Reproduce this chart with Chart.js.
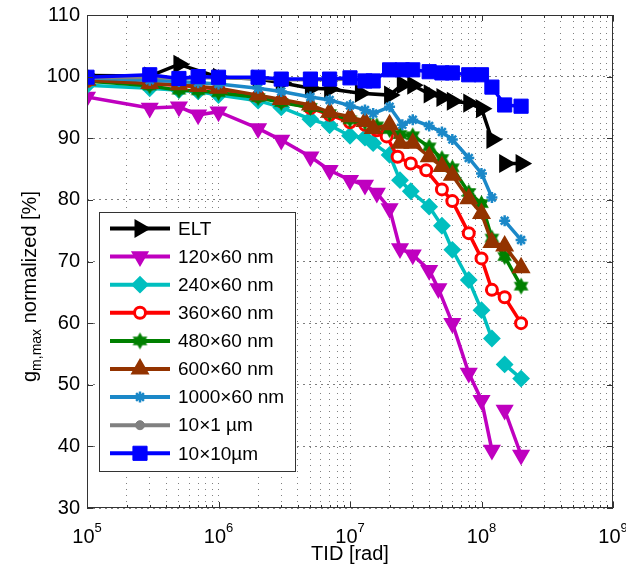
<!DOCTYPE html>
<html>
<head>
<meta charset="utf-8">
<script src="https://cdn.jsdelivr.net/npm/chart.js@4/dist/chart.umd.min.js"></script>
<style>
  html, body { margin: 0; padding: 0; background: #fff; }
</style>
</head>
<body>
<canvas id="tidChart" width="626" height="574"></canvas>
<script>
// --- data (TID in rad, gm,max normalized in %) ---
const seriesNames = ["ELT", "120×60 nm", "240×60 nm", "360×60 nm", "480×60 nm",
                     "600×60 nm", "1000×60 nm", "10×1 µm", "10×10µm"];

const tidElt = [1e5, 3e5, 5e5, 1e6, 2e6, 3e6, 5e6, 7e6, 1.2e7, 2e7, 2.5e7, 3e7, 4e7, 5e7, 6e7, 8e7, 1e8, 1.2e8, 1.35e8, 1.5e8, 2e8];
const gmElt  = [100.2, 100.1, 102.0, 99.9, 99.6, 99.0, 98.1, 98.0, 97.3, 97.0, 98.7, 98.6, 97.2, 96.6, 96.0, 95.7, 94.8, 89.8, null, 85.9, 85.9];

const tid120 = [1e5, 3e5, 5e5, 7e5, 1e6, 2e6, 3e6, 5e6, 7e6, 1e7, 1.3e7, 1.6e7, 2e7, 2.4e7, 3e7, 4e7, 4.7e7, 6e7, 8e7, 1e8, 1.2e8, 1.35e8, 1.5e8, 2e8];
const gm120  = [96.7, 94.9, 95.1, 93.8, 94.3, 91.6, 89.7, 87.0, 84.8, 83.2, 82.4, 81.1, 78.6, 72.1, 71.1, 68.6, 65.6, 60.0, 51.9, 47.5, 39.4, null, 45.9, 38.6];

const tid240 = [1e5, 3e5, 5e5, 7e5, 1e6, 2e6, 3e6, 5e6, 7e6, 1e7, 1.3e7, 1.5e7, 2e7, 2.4e7, 2.9e7, 4e7, 5e7, 6e7, 8e7, 1e8, 1.2e8, 1.35e8, 1.5e8, 2e8];
const gm240  = [98.6, 98.1, 97.8, 97.6, 97.0, 96.1, 95.0, 93.1, 92.1, 90.4, 90.1, 89.2, 87.3, 83.2, 81.4, 78.9, 75.8, 71.9, 67.0, 62.1, 57.5, null, 53.3, 51.0];

const tid360 = [1e5, 3e5, 5e5, 7e5, 1e6, 2e6, 3e6, 5e6, 7e6, 1e7, 1.3e7, 1.6e7, 1.9e7, 2.3e7, 2.9e7, 3.8e7, 5e7, 6e7, 8e7, 1e8, 1.2e8, 1.5e8, 2e8];
const gm360  = [99.3, 98.8, 98.6, 98.3, 98.0, 96.8, 96.0, 94.9, 93.8, 92.6, 92.2, 91.3, 90.3, 87.0, 85.9, 84.8, 81.7, 79.8, 74.6, 70.5, 65.4, 64.2, 60.0];

const tid480 = [1e5, 3e5, 5e5, 7e5, 1e6, 2e6, 3e6, 5e6, 7e6, 1e7, 1.3e7, 1.6e7, 2e7, 2.4e7, 3e7, 4e7, 5e7, 6e7, 8e7, 1e8, 1.2e8, 1.5e8, 2e8];
const gm480  = [99.3, 98.5, 97.8, 97.7, 97.4, 96.6, 95.8, 95.0, 94.0, 93.0, 92.6, 92.0, 91.4, 90.6, 90.4, 88.6, 86.7, 85.2, 81.2, 79.4, 73.8, 70.8, 66.0];

const tid600 = [1e5, 3e5, 5e5, 7e5, 1e6, 2e6, 3e6, 5e6, 7e6, 1e7, 1.3e7, 1.5e7, 2e7, 2.4e7, 3e7, 4e7, 5e7, 6e7, 8e7, 1e8, 1.2e8, 1.5e8, 2e8];
const gm600  = [99.4, 98.9, 98.7, 98.4, 98.1, 97.0, 96.3, 95.4, 94.2, 93.5, 92.7, 91.6, 92.2, 89.2, 89.2, 87.0, 85.4, 84.0, 80.2, 77.8, 73.1, 72.5, 69.0];

const tid1000 = [1e5, 3e5, 5e5, 7e5, 1e6, 2e6, 3e6, 5e6, 7e6, 1e7, 1.3e7, 1.5e7, 2e7, 2.5e7, 3e7, 4e7, 5e7, 6e7, 8e7, 1e8, 1.2e8, 1.35e8, 1.5e8, 2e8];
const gm1000  = [99.8, 99.4, 99.2, 99.0, 98.8, 98.1, 97.6, 96.7, 96.2, 95.3, 94.6, 94.0, 95.1, 92.2, 93.0, 92.0, 91.0, 89.8, 86.8, 84.3, 80.4, null, 76.6, 73.5];

const tid10x1 = [1e5, 3e5, 5e5, 7e5, 1e6, 2e6, 3e6, 5e6, 7e6, 1e7];
const gm10x1  = [99.8, 99.9, 99.7, 99.8, 99.8, 99.7, 99.5, 99.5, 99.5, 99.6];

const tid10x10 = [1e5, 3e5, 5e5, 7e5, 1e6, 2e6, 3e6, 5e6, 7e6, 1e7, 1.3e7, 1.5e7, 2e7, 2.5e7, 3e7, 4e7, 5e7, 6e7, 8e7, 1e8, 1.2e8, 1.5e8, 2e8];
const gm10x10  = [99.9, 100.3, 99.7, 100.0, 99.9, 99.9, 99.6, 99.6, 99.6, 99.8, 99.3, 99.3, 101.1, 101.1, 101.1, 100.8, 100.6, 100.6, 100.3, 100.3, 98.3, 95.4, 95.2];

const yTicks = [30, 40, 50, 60, 70, 80, 90, 100, 110];
const xTickExps = [5, 6, 7, 8, 9];
const xMinorMults = [2, 3, 4, 5, 6, 7, 8, 9];

const FONT = "'Liberation Sans', Arial, sans-serif";

// filled six-pointed star, used as the 480x60 marker
function hexagram(r, color) {
    const c = document.createElement("canvas");
    const s = Math.ceil(2 * r + 4);
    c.width = c.height = s;
    const g = c.getContext("2d");
    g.translate(s / 2, s / 2);
    g.beginPath();
    for (let i = 0; i < 12; i++) {
        const a = -Math.PI / 2 + i * Math.PI / 6;
        const rr = i % 2 ? r * 0.577 : r;
        g.lineTo(rr * Math.cos(a), rr * Math.sin(a));
    }
    g.closePath();
    g.fillStyle = color;
    g.fill();
    return c;
}

const styles = [
    { color: "#000000", point: "triangle", rot: 90,  r: 9,   fill: "#000000", bw: 2 },
    { color: "#bf00bf", point: "triangle", rot: 180, r: 8.5, fill: "#bf00bf", bw: 2 },
    { color: "#00bfbf", point: "rectRot",  rot: 0,   r: 7.5, fill: "#00bfbf", bw: 2 },
    { color: "#ff0000", point: "circle",   rot: 0,   r: 5.5, fill: "#ffffff", bw: 3 },
    { color: "#008000", point: hexagram(8.5, "#008000"), rot: 0, r: 8, fill: "#008000", bw: 1 },
    { color: "#933300", point: "triangle", rot: 0,   r: 9,   fill: "#933300", bw: 2 },
    { color: "#1b88c8", point: "star",     rot: 0,   r: 5.5, fill: "#1b88c8", bw: 2.5 },
    { color: "#808080", point: "circle",   rot: 0,   r: 4.5, fill: "#808080", bw: 1 },
    { color: "#0000ff", point: "rect",     rot: 0,   r: 10,  fill: "#0000ff", bw: 1 }
];

const tids = [tidElt, tid120, tid240, tid360, tid480, tid600, tid1000, tid10x1, tid10x10];
const gms  = [gmElt, gm120, gm240, gm360, gm480, gm600, gm1000, gm10x1, gm10x10];

const datasets = seriesNames.map((name, i) => ({
    label: name,
    data: tids[i].map((t, k) => ({ x: t, y: gms[i][k] })),
    borderColor: styles[i].color,
    backgroundColor: styles[i].fill,
    borderWidth: 3.5,
    pointStyle: styles[i].point,
    pointRotation: styles[i].rot,
    pointRadius: styles[i].r,
    pointBorderWidth: styles[i].bw,
    pointBackgroundColor: styles[i].fill,
    pointBorderColor: styles[i].color,
    tension: 0,
    spanGaps: false,
    order: seriesNames.length - i   // later series on top, like MATLAB
}));

// axes box, inward ticks, tick labels, axis titles and legend
const decorations = {
    id: "decorations",
    afterDraw(chart) {
        const ctx = chart.ctx;
        const a = chart.chartArea;
        const xs = chart.scales.x, ys = chart.scales.y;
        ctx.save();

        // box
        ctx.strokeStyle = "#333";
        ctx.lineWidth = 1;
        ctx.strokeRect(a.left + 0.5, a.top + 0.5, a.right - a.left - 1, a.bottom - a.top - 1);

        // inward ticks
        ctx.beginPath();
        xTickExps.forEach(e => {
            const px = Math.round(xs.getPixelForValue(Math.pow(10, e))) + 0.5;
            ctx.moveTo(px, a.bottom); ctx.lineTo(px, a.bottom - 6);
            ctx.moveTo(px, a.top); ctx.lineTo(px, a.top + 6);
            if (e < 9) xMinorMults.forEach(m => {
                const q = Math.round(xs.getPixelForValue(m * Math.pow(10, e))) + 0.5;
                ctx.moveTo(q, a.bottom); ctx.lineTo(q, a.bottom - 3);
                ctx.moveTo(q, a.top); ctx.lineTo(q, a.top + 3);
            });
        });
        yTicks.forEach(v => {
            const py = Math.round(ys.getPixelForValue(v)) + 0.5;
            ctx.moveTo(a.left, py); ctx.lineTo(a.left + 6, py);
            ctx.moveTo(a.right, py); ctx.lineTo(a.right - 6, py);
        });
        ctx.stroke();

        // y tick labels
        ctx.fillStyle = "#000";
        ctx.font = "20px " + FONT;
        ctx.textAlign = "right";
        ctx.textBaseline = "middle";
        yTicks.forEach(v => ctx.fillText(String(v), a.left - 7, ys.getPixelForValue(v)));

        // x tick labels 10^n
        ctx.textAlign = "left";
        ctx.textBaseline = "alphabetic";
        xTickExps.forEach(e => {
            const px = xs.getPixelForValue(Math.pow(10, e));
            ctx.font = "20px " + FONT;
            const wb = ctx.measureText("10").width;
            ctx.font = "13px " + FONT;
            const we = ctx.measureText(String(e)).width;
            const x0 = px - (wb + we) / 2;
            ctx.font = "20px " + FONT;
            ctx.fillText("10", x0, a.bottom + 35);
            ctx.font = "13px " + FONT;
            ctx.fillText(String(e), x0 + wb, a.bottom + 24);
        });

        // x title
        ctx.font = "20px " + FONT;
        ctx.textAlign = "center";
        ctx.fillText("TID [rad]", (a.left + a.right) / 2, a.bottom + 52);

        // y title with subscript
        ctx.save();
        ctx.translate(36, 382);
        ctx.rotate(-Math.PI / 2);
        ctx.textAlign = "left";
        ctx.font = "20px " + FONT;
        ctx.fillText("g", 0, 0);
        let off = ctx.measureText("g").width;
        ctx.font = "14px " + FONT;
        ctx.fillText("m,max", off, 5);
        off += ctx.measureText("m,max").width;
        ctx.font = "20px " + FONT;
        ctx.fillText(" normalized [%]", off, 0);
        ctx.restore();

        // legend
        const lx = 99.5, ly = 212.5, lw = 196, lh = 259;
        ctx.fillStyle = "#fff";
        ctx.fillRect(lx, ly, lw, lh);
        ctx.strokeStyle = "#333";
        ctx.lineWidth = 1;
        ctx.strokeRect(lx, ly, lw, lh);
        ctx.font = "19px " + FONT;
        ctx.textAlign = "left";
        ctx.textBaseline = "middle";
        chart.data.datasets.forEach((ds, i) => {
            const y = 228.5 + i * 28.1;
            ctx.strokeStyle = ds.borderColor;
            ctx.lineWidth = 4;
            ctx.beginPath();
            ctx.moveTo(110, y); ctx.lineTo(170, y);
            ctx.stroke();
            ctx.fillStyle = ds.pointBackgroundColor;
            ctx.strokeStyle = ds.pointBorderColor;
            ctx.lineWidth = ds.pointBorderWidth;
            Chart.helpers.drawPoint(ctx, {
                pointStyle: ds.pointStyle, rotation: ds.pointRotation,
                radius: ds.pointRadius, borderWidth: ds.pointBorderWidth
            }, 140, y);
            ctx.fillStyle = "#000";
            ctx.fillText(ds.label, 178, y + 1);
        });
        ctx.restore();
    }
};

new Chart(document.getElementById("tidChart"), {
    type: "line",
    data: { datasets: datasets },
    options: {
        responsive: false,
        animation: false,
        layout: { padding: { left: 0, top: 15, right: 13, bottom: 0 } },
        plugins: { legend: { display: false }, tooltip: { enabled: false } },
        scales: {
            x: {
                type: "logarithmic",
                min: 1e5, max: 1e9,
                afterBuildTicks: s => {
                    const t = [];
                    xTickExps.forEach(e => {
                        t.push({ value: Math.pow(10, e) });
                        if (e < 9) xMinorMults.forEach(m => t.push({ value: m * Math.pow(10, e) }));
                    });
                    s.ticks = t;
                },
                afterFit: s => { s.height = 66; },
                ticks: { display: false },
                grid: { color: "rgba(0,0,0,0.5)", lineWidth: 1, drawTicks: false },
                border: { display: false, dash: [1, 5] }
            },
            y: {
                min: 30, max: 110,
                afterFit: s => { s.width = 87; },
                ticks: { stepSize: 10, display: false },
                grid: { color: "rgba(0,0,0,0.5)", lineWidth: 1, drawTicks: false },
                border: { display: false, dash: [2, 4] }
            }
        }
    },
    plugins: [decorations]
});
</script>
</body>
</html>
